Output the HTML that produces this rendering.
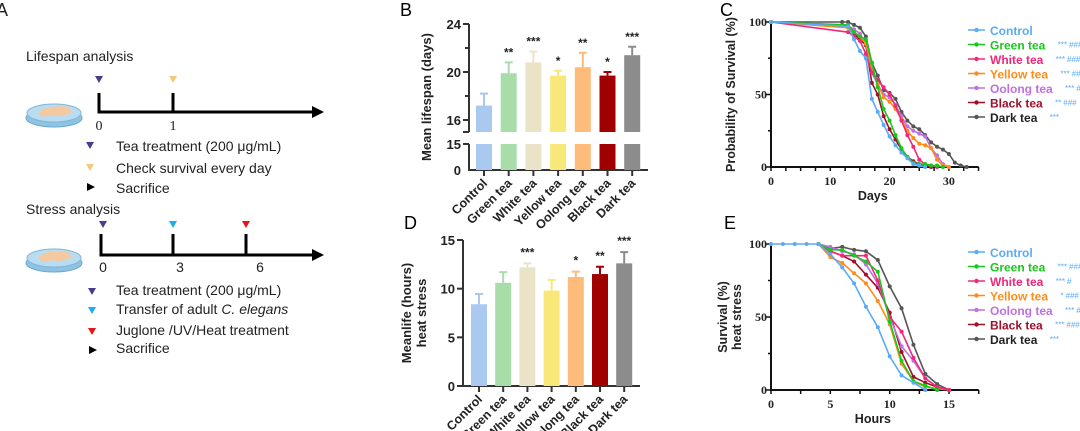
<!DOCTYPE html>
<html><head><meta charset="utf-8"><style>
html,body{margin:0;padding:0;background:#fff}
svg{display:block;font-family:"Liberation Sans",sans-serif}
</style></head><body>
<svg id="fig" width="1080" height="431" viewBox="0 0 1080 431" xmlns="http://www.w3.org/2000/svg">
<g font-size="14" fill="#222">
<text x="-4" y="16" font-size="18">A</text>
<text x="26" y="61">Lifespan analysis</text>
<g><ellipse cx="54" cy="118" rx="28" ry="9" fill="#8fc3e3" stroke="#6aa8cf"/><ellipse cx="54" cy="113" rx="27" ry="9" fill="#b9dcf0" stroke="#7fb5d8"/><path d="M38 113 q8-8 18-6 q12-3 16 5 q-10 6-20 3 q-8 4-14-2z" fill="#f4c9a0"/></g>
<path d="M99 93V112H315" stroke="#000" stroke-width="3" fill="none"/>
<path d="M173 93V112" stroke="#000" stroke-width="3"/>
<path d="M312 106L324 112L312 118z" fill="#000"/>
<path d="M95 76h8l-4 7z" fill="#4b3b8f"/>
<path d="M169 76h8l-4 7z" fill="#f6c77c"/>
<text x="99" y="130" text-anchor="middle" font-family="Liberation Serif">0</text>
<text x="173" y="130" text-anchor="middle" font-family="Liberation Serif">1</text>
<path d="M86 142h8l-4 7z" fill="#4b3b8f"/><text x="116" y="151">Tea treatment (200 μg/mL)</text>
<path d="M86 164h8l-4 7z" fill="#f6c77c"/><text x="116" y="173">Check survival every day</text>
<path d="M87 183l8 4-8 4z" fill="#000"/><text x="116" y="193">Sacrifice</text>
<text x="26" y="214">Stress analysis</text>
<g><ellipse cx="54" cy="263" rx="28" ry="9" fill="#8fc3e3" stroke="#6aa8cf"/><ellipse cx="54" cy="258" rx="27" ry="9" fill="#b9dcf0" stroke="#7fb5d8"/><path d="M38 258 q8-8 18-6 q12-3 16 5 q-10 6-20 3 q-8 4-14-2z" fill="#f4c9a0"/></g>
<path d="M101 234V255H315" stroke="#000" stroke-width="3" fill="none"/>
<path d="M173 234V255M246 234V255" stroke="#000" stroke-width="3"/>
<path d="M312 249L324 255L312 261z" fill="#000"/>
<path d="M99 221h8l-4 7z" fill="#4b3b8f"/><path d="M169 221h8l-4 7z" fill="#1aaef0"/><path d="M242 221h8l-4 7z" fill="#e8141a"/>
<text x="103" y="272" text-anchor="middle">0</text><text x="180" y="272" text-anchor="middle">3</text><text x="260" y="272" text-anchor="middle">6</text>
<path d="M88 288h8l-4 7z" fill="#4b3b8f"/><text x="116" y="295">Tea treatment (200 μg/mL)</text>
<path d="M88 307h8l-4 7z" fill="#1aaef0"/><text x="116" y="314">Transfer of adult <tspan font-style="italic">C. elegans</tspan></text>
<path d="M88 328h8l-4 7z" fill="#e8141a"/><text x="116" y="335">Juglone /UV/Heat treatment</text>
<path d="M89 346l8 4-8 4z" fill="#000"/><text x="116" y="353">Sacrifice</text>
</g>
<text x="400" y="16" font-size="18">B</text>
<text x="720" y="16" font-size="18">C</text>
<text x="404" y="229" font-size="18">D</text>
<text x="724" y="229" font-size="18">E</text>
<g id="gb"></g>
<g id="gd"></g>
<g id="gc"></g>
<g id="ge"></g>
</svg>
<script>
const teaNames = ["Control","Green tea","White tea","Yellow tea","Oolong tea","Black tea","Dark tea"];
const barColors = ["#a9c9f0","#a8ddaa","#ebe3c8","#f8e87a","#fdbb7c","#a00000","#8c8c8c"];
const lineColors = ["#5aabf5","#19c81e","#f0287a","#ff8c1a","#c070e0","#a0102a","#555555"];
const lifespanMeans = [17.2,19.9,20.8,19.7,20.4,19.7,21.4];
const lifespanErr = [1.0,0.9,0.9,0.4,1.2,0.3,0.7];
const lifespanStars = ["","**","***","*","**","*","***"];
const heatMeans = [8.4,10.6,12.2,9.8,11.2,11.5,12.6];
const heatErr = [1.05,1.1,0.4,1.1,0.55,0.75,1.15];
const heatStars = ["","","***","","*","**","***"];
const survDays = [
[0,13,14,15,16,17,18,19,20,21,22,23,24,25,26],
[0,13,14,15,16,17,18,19,20,21,22,23,24,25,26,27,28,29],
[0,13,14,15,16,17,18,19,20,21,22,23,24,25,26,27,28],
[0,13,14,15,16,17,18,19,20,21,22,23,24,25,26,27,28,29,30],
[0,13,14,15,16,17,18,19,20,21,22,23,24,25,26,27,28,29,30],
[0,13,14,15,16,17,18,19,20,21,22,23,24,25,26,27],
[0,12,13,14,15,16,17,18,19,20,21,22,23,24,25,26,27,28,29,30,31,32,33]];
const survPct = [
[100,97,88,80,75,47,38,29,21,15,10,6,2,1,0],
[100,98,93,90,88,72,55,40,32,22,13,7,3,2,2,1,1,0],
[100,93,90,87,78,65,60,55,50,42,32,22,14,5,2,1,0],
[100,96,93,90,85,68,57,48,45,40,33,25,20,16,15,13,5,1,0],
[100,97,95,92,85,65,57,50,48,43,35,28,25,23,21,13,8,2,0],
[100,97,92,88,84,58,50,35,26,19,12,7,4,2,1,0],
[100,100,100,98,96,90,72,63,53,51,47,38,32,28,26,22,17,14,12,9,3,1,0]];
const heatHours = [
[0,1,2,3,4,5,6,7,8,9,10,11,12,13],
[4,5,6,7,8,9,10,11,12,13,14],
[4,5,6,7,8,9,10,11,12,13,14,15],
[4,5,6,7,8,9,10,11,12,13,14,15],
[4,5,6,7,8,9,10,11,12,13,14,15],
[4,5,6,7,8,9,10,11,12,13,14,15],
[4,5,6,7,8,9,10,11,12,13,14,15]];
const heatPct = [
[100,100,100,100,100,93,84,73,57,43,23,10,5,0],
[100,96,96,92,88,81,47,20,6,3,0],
[100,95,92,92,92,75,50,40,22,8,2,0],
[100,91,87,80,73,61,45,18,6,2,1,0],
[100,98,95,93,86,73,50,30,20,8,2,0],
[100,95,92,88,79,70,53,26,9,5,2,0],
[100,97,98,96,95,89,71,56,31,11,4,0]];
const legendSig = ["","*** ###","*** ###","*** ##","*** #","** ###","***"];
const legendSigE = ["","*** ###","*** #","* ###","*** ##","*** ###","***"];
const cTicksX = [0,10,20,30];
const eTicksX = [0,5,10,15];

const NS="http://www.w3.org/2000/svg";
function mk(parent,tag,attrs,text){const e=document.createElementNS(NS,tag);for(const k in attrs)e.setAttribute(k,attrs[k]);if(text!==undefined)e.textContent=text;parent.appendChild(e);return e;}

// Panel B
(function(){
const g=document.getElementById('gb');
const xAxis0=469, x1=648, cx0=484, step=24.7, bw=16;
const yHi=v=>120-(v-16)*12;
const yLo=v=>170-v*26/15;
mk(g,'path',{d:`M${xAxis0} 24V132M${xAxis0} 144V170H${x1}`,stroke:'#333','stroke-width':2,fill:'none'});
[[24,yHi(24)],[20,yHi(20)],[16,yHi(16)]].forEach(t=>{mk(g,'path',{d:`M${xAxis0-6} ${t[1]}H${xAxis0}`,stroke:'#333','stroke-width':2});
const tx=mk(g,'text',{x:xAxis0-8,y:t[1]+5,'text-anchor':'end','font-size':13,'font-weight':'bold',fill:'#222'},t[0]);
});
[18,22].forEach(v=>mk(g,'path',{d:`M${xAxis0-4} ${yHi(v)}H${xAxis0}`,stroke:'#333','stroke-width':2}));
mk(g,'path',{d:`M${xAxis0-6} 132H${xAxis0}M${xAxis0-6} 144H${xAxis0}`,stroke:'#333','stroke-width':2});
mk(g,'text',{x:xAxis0-8,y:149,'text-anchor':'end','font-size':13,'font-weight':'bold',fill:'#222'},'15');
mk(g,'text',{x:xAxis0-8,y:175,'text-anchor':'end','font-size':13,'font-weight':'bold',fill:'#222'},'0');
const yt=mk(g,'text',{transform:'translate(431,97) rotate(-90)','text-anchor':'middle','font-size':13,'font-weight':'bold',fill:'#222'},'Mean lifespan (days)');

lifespanMeans.forEach((m,i)=>{
const cx=cx0+i*step;
const b=mk(g,'g',{});


mk(b,'rect',{x:cx-bw/2,y:yLo(15),width:bw,height:yLo(0)-yLo(15),fill:barColors[i]});
mk(b,'rect',{x:cx-bw/2,y:yHi(m),width:bw,height:132-yHi(m),fill:barColors[i]});
mk(b,'path',{d:`M${cx} ${yHi(m)}V${yHi(m+lifespanErr[i])}M${cx-4} ${yHi(m+lifespanErr[i])}H${cx+4}`,stroke:barColors[i],'stroke-width':2});
if(lifespanStars[i])mk(b,'text',{x:cx,y:yHi(m+lifespanErr[i])-6,'text-anchor':'middle','font-size':12,'font-weight':'bold',fill:'#222'},lifespanStars[i]);
mk(g,'path',{d:`M${cx} 170V176`,stroke:'#333','stroke-width':2});
const l=mk(g,'text',{transform:`translate(${cx+4},184) rotate(-45)`,'text-anchor':'end','font-size':12.5,'font-weight':'bold',fill:'#222'},teaNames[i]);

});
})();

// Panel D
(function(){
const g=document.getElementById('gd');
const x0=463,x1=640,cx0=479,step=24.2,bw=16;
const y=v=>386-v*146/15;
mk(g,'path',{d:`M${x0} 240V386H${x1}`,stroke:'#333','stroke-width':2,fill:'none'});
[0,5,10,15].forEach(v=>{mk(g,'path',{d:`M${x0-6} ${y(v)}H${x0}`,stroke:'#333','stroke-width':2});
mk(g,'text',{x:x0-8,y:y(v)+5,'text-anchor':'end','font-size':13,'font-weight':'bold',fill:'#222'},v);});
const yt=mk(g,'text',{transform:'translate(411,313) rotate(-90)','text-anchor':'middle','font-size':13,'font-weight':'bold',fill:'#222'},'Meanlife (hours)');

mk(g,'text',{transform:'translate(426,313) rotate(-90)','text-anchor':'middle','font-size':13,'font-weight':'bold',fill:'#222'},'heat stress');
heatMeans.forEach((m,i)=>{
const cx=cx0+i*step;
const b=mk(g,'g',{});


mk(b,'rect',{x:cx-bw/2,y:y(m),width:bw,height:386-y(m),fill:barColors[i]});
mk(b,'path',{d:`M${cx} ${y(m)}V${y(m+heatErr[i])}M${cx-4} ${y(m+heatErr[i])}H${cx+4}`,stroke:barColors[i],'stroke-width':2});
if(heatStars[i])mk(b,'text',{x:cx,y:y(m+heatErr[i])-7,'text-anchor':'middle','font-size':12,'font-weight':'bold',fill:'#222'},heatStars[i]);
mk(g,'path',{d:`M${cx} 386V392`,stroke:'#333','stroke-width':2});
const l=mk(g,'text',{transform:`translate(${cx+4},400) rotate(-45)`,'text-anchor':'end','font-size':12.5,'font-weight':'bold',fill:'#222'},teaNames[i]);

});
})();

function survival(gid,xs,ys,xmin,xmax,xScale,yScale,ox,oy,topY,xTicks,xMinorStep,xTitle,xTitleY,yTitles,legY,sig){
const g=document.getElementById(gid);
const X=v=>ox+(v-xmin)*xScale, Y=v=>oy-v*yScale;
mk(g,'path',{d:`M${ox} ${topY}V${oy}H${X(xmax)}`,stroke:'#111','stroke-width':2,fill:'none'});
for(let v=xmin;v<=xmax;v+=xMinorStep)mk(g,'path',{d:`M${X(v)} ${oy}V${oy+4}`,stroke:'#111','stroke-width':1.5});
xTicks.forEach(v=>{const t=mk(g,'text',{x:X(v),y:oy+18,'text-anchor':'middle','font-family':'Liberation Serif','font-weight':'bold','font-size':12,fill:'#222'},v);
});
[0,25,50,75,100].forEach(v=>{mk(g,'path',{d:`M${ox-(v%50?3:5)} ${Y(v)}H${ox}`,stroke:'#111','stroke-width':1.5});
if(v%50===0)mk(g,'text',{x:ox-4,y:Y(v)+4,'text-anchor':'end','font-family':'Liberation Serif','font-weight':'bold','font-size':12,fill:'#222'},v);});
const xt=mk(g,'text',{x:(ox+X(xmax))/2-2,y:xTitleY,'text-anchor':'middle','font-size':12.5,'font-weight':'bold',fill:'#222'},xTitle);

yTitles.forEach(t=>{const e=mk(g,'text',{transform:`translate(${t[1]},${(topY+oy)/2}) rotate(-90)`,'text-anchor':'middle','font-size':12.5,'font-weight':'bold',fill:'#222'},t[0]);
});
for(let i=xs.length-1;i>=0;i--){
const s=mk(g,'g',{});


mk(s,'polyline',{points:xs[i].map((x,j)=>X(x)+','+Y(ys[i][j])).join(' '),fill:'none',stroke:lineColors[i],'stroke-width':1.6});
xs[i].forEach((x,j)=>mk(s,'circle',{cx:X(x),cy:Y(ys[i][j]),r:2,fill:lineColors[i]}));
}
teaNames.forEach((n,i)=>{
const ly=legY[0]+i*legY[1];
const e=mk(g,'g',{});


mk(e,'path',{d:`M968 ${ly}H985`,stroke:lineColors[i],'stroke-width':1.6});
mk(e,'circle',{cx:976.5,cy:ly,r:2.2,fill:lineColors[i]});
const t=mk(e,'text',{x:990,y:ly+5,'font-size':12,'font-weight':'bold',fill:i==6?'#222':lineColors[i]},n);
let w=57; try{w=t.getComputedTextLength();}catch(err){}
if(sig[i])mk(e,'text',{x:990+w+12,y:ly+3,'font-size':8,'font-style':'italic',fill:'#5aabf5'},sig[i]);
});
}
survival('gc',survDays,survPct,0,35,5.93,1.45,771,167,22,cTicksX,2.5,'Days',200,[['Probability of Survival (%)',735]],[30,14.5],legendSig);
survival('ge',heatHours,heatPct,0,17.5,11.87,1.46,771,390,244,eTicksX,2.5,'Hours',423,[['Survival (%)',727],['heat stress',741]],[252,14.5],legendSigE);
</script>
</body></html>
